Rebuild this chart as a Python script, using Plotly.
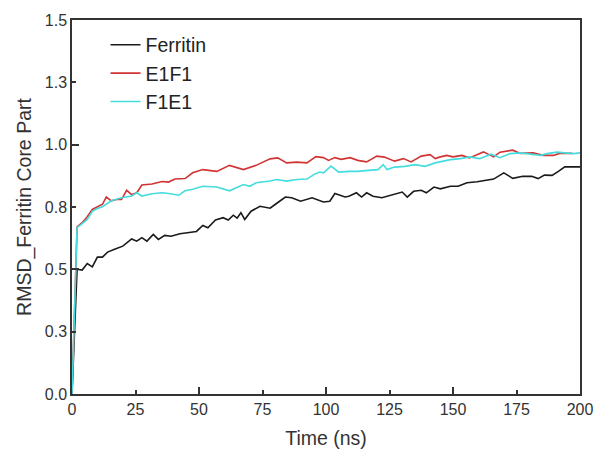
import plotly.graph_objects as go

# Ferritin
ferritin_t = [0, 2, 4, 6, 8, 10, 12, 14, 17, 20, 23.5, 25.5, 27.5, 29.5, 32, 34, 36.5, 39, 42.5, 46.5,
              49, 51.5, 53.5, 56.5, 59.5, 61.5, 63.5, 65, 66.5, 68, 70.5, 74, 78, 80.5, 84, 86.5, 90, 94.5,
              99, 101.5, 103.5, 107.5, 109, 112, 114, 116, 118.5, 122, 126, 130, 132, 134.5, 137.5, 139.5,
              142.5, 145, 149, 152, 155.5, 159.5, 166, 170, 173.5, 177.5, 181, 183.5, 186, 189, 191.5, 194, 200]
ferritin_v = [0, 0.50, 0.497, 0.523, 0.51, 0.549, 0.549, 0.569, 0.582, 0.593, 0.622, 0.613, 0.627, 0.613,
              0.64, 0.62, 0.636, 0.633, 0.643, 0.648, 0.652, 0.676, 0.667, 0.698, 0.707, 0.698, 0.717, 0.705,
              0.727, 0.70, 0.733, 0.753, 0.745, 0.764, 0.79, 0.787, 0.773, 0.787, 0.77, 0.773, 0.804, 0.79,
              0.793, 0.807, 0.79, 0.807, 0.793, 0.787, 0.798, 0.81, 0.79, 0.813, 0.817, 0.807, 0.83, 0.823,
              0.833, 0.833, 0.847, 0.851, 0.862, 0.887, 0.865, 0.873, 0.873, 0.864, 0.878, 0.877, 0.893,
              0.911, 0.911]

# E1F1
e1f1_t = [0, 2, 4, 6, 8, 10, 12, 13.5, 15.5, 17.5, 19.5, 21.5, 23.5, 25.5, 27.5, 31.5, 35.5, 38, 40.5,
          44.5, 47.5, 51.5, 57, 62, 67.5, 72.5, 78, 81, 84.5, 88.5, 92.5, 96, 99, 101, 103.5, 106, 109.5,
          112.5, 116, 120, 123, 127, 130.5, 133.5, 137.5, 141, 143, 145, 147.5, 150, 153.5, 156.5, 162,
          166, 168.5, 173.5, 176.5, 181.5, 185.5, 189.5, 192, 197]
e1f1_v = [0, 0.67, 0.687, 0.711, 0.74, 0.751, 0.761, 0.79, 0.775, 0.78, 0.78, 0.817, 0.80, 0.807, 0.838,
          0.842, 0.852, 0.85, 0.862, 0.864, 0.887, 0.90, 0.893, 0.917, 0.90, 0.917, 0.943, 0.947, 0.927,
          0.93, 0.927, 0.952, 0.948, 0.937, 0.948, 0.941, 0.948, 0.937, 0.931, 0.954, 0.95, 0.934, 0.944,
          0.931, 0.954, 0.96, 0.944, 0.951, 0.957, 0.951, 0.957, 0.947, 0.971, 0.951, 0.97, 0.978, 0.965,
          0.967, 0.957, 0.957, 0.965, 0.965]

# F1E1
f1e1_t = [0, 2, 4, 6, 8, 10, 12, 13.5, 15.5, 19.5, 23.5, 25.5, 27.5, 31.5, 35.5, 38, 42, 44.5, 47.5,
          51.5, 57, 62, 67.5, 70, 72.5, 78, 80.5, 84.5, 88.5, 92.5, 95.5, 97.5, 99, 102, 105, 109, 112.5,
          116.5, 120.5, 122.5, 124, 127, 131, 135, 139, 143, 147, 149, 153, 156.5, 160.5, 165, 168.5,
          172.5, 176.5, 180.5, 184.5, 187, 191, 194, 197.5, 200]
f1e1_v = [0, 0.667, 0.683, 0.70, 0.733, 0.744, 0.751, 0.761, 0.775, 0.787, 0.794, 0.807, 0.794, 0.803,
          0.807, 0.804, 0.797, 0.815, 0.821, 0.833, 0.83, 0.815, 0.84, 0.833, 0.847, 0.854, 0.86, 0.854,
          0.86, 0.862, 0.882, 0.89, 0.887, 0.914, 0.89, 0.893, 0.893, 0.897, 0.90, 0.92, 0.90, 0.91, 0.913,
          0.92, 0.913, 0.927, 0.935, 0.94, 0.944, 0.951, 0.944, 0.962, 0.948, 0.964, 0.967, 0.962, 0.957,
          0.964, 0.97, 0.967, 0.964, 0.967]

x_ticks = [0, 25, 50, 75, 100, 125, 150, 175, 200]
x_major = [0, 50, 100, 150, 200]
y_ticks = [0, 0.25, 0.5, 0.75, 1.0, 1.25, 1.5]
y_ticktext = ["0.0", "0.3", "0.5", "0.8", "1.0", "1.3", "1.5"]
y_major = [0, 0.5, 1.0, 1.5]

FONT = "Liberation Sans, Arial, sans-serif"
AX = "#333333"

fig = go.Figure()
fig.add_trace(go.Scatter(x=ferritin_t, y=ferritin_v, mode="lines", name="Ferritin",
                         line=dict(color="#1a1a1a", width=1.6)))
fig.add_trace(go.Scatter(x=e1f1_t, y=e1f1_v, mode="lines", name="E1F1",
                         line=dict(color="#d03434", width=1.6)))
fig.add_trace(go.Scatter(x=f1e1_t, y=f1e1_v, mode="lines", name="F1E1",
                         line=dict(color="#44dcdc", width=1.6)))
# invisible trace to host the overlay axes for longer major ticks
fig.add_trace(go.Scatter(x=[None], y=[None], xaxis="x2", yaxis="y2", showlegend=False,
                         hoverinfo="skip"))

fig.update_layout(
    width=595, height=450,
    margin=dict(l=72, r=15, t=20, b=56),
    paper_bgcolor="white", plot_bgcolor="white",
    font=dict(family=FONT, color=AX),
    showlegend=True,
    legend=dict(x=0.066, y=0.985, xanchor="left", yanchor="top",
                font=dict(size=19.5, family=FONT, color="#222222"),
                bgcolor="rgba(0,0,0,0)", tracegroupgap=0),
    xaxis=dict(range=[0, 200], tickvals=x_ticks, ticks="inside", ticklen=4, tickwidth=1.5,
               tickcolor=AX, showline=True, linecolor=AX, linewidth=1.5, mirror=True,
               showgrid=False, zeroline=False, automargin=False,
               tickfont=dict(size=16, family=FONT, color=AX),
               title=dict(text="Time (ns)", font=dict(size=19.5, family=FONT, color=AX),
                          standoff=14)),
    yaxis=dict(range=[0, 1.5], tickvals=y_ticks, ticktext=y_ticktext, ticks="inside", ticklen=4,
               tickwidth=1.5, tickcolor=AX, showline=True, linecolor=AX, linewidth=1.5,
               mirror=True, showgrid=False, zeroline=False, automargin=False,
               tickfont=dict(size=16, family=FONT, color=AX),
               title=dict(text="RMSD_Ferritin Core Part", font=dict(size=19.5, family=FONT,
                                                                     color=AX), standoff=8)),
    xaxis2=dict(overlaying="x", range=[0, 200], tickvals=x_major, ticks="inside", ticklen=7,
                tickwidth=1.5, tickcolor=AX, showticklabels=False, showline=False,
                showgrid=False, zeroline=False, side="bottom", automargin=False),
    yaxis2=dict(overlaying="y", range=[0, 1.5], tickvals=y_major, ticks="inside", ticklen=7,
                tickwidth=1.5, tickcolor=AX, showticklabels=False, showline=False,
                showgrid=False, zeroline=False, side="left", automargin=False),
)

# remove the default page margin so the figure sits at the window's top-left corner
fig.write_html("out.html", config={"displayModeBar": False},
               post_script="document.body.style.margin='0';document.body.style.overflow='hidden';")
